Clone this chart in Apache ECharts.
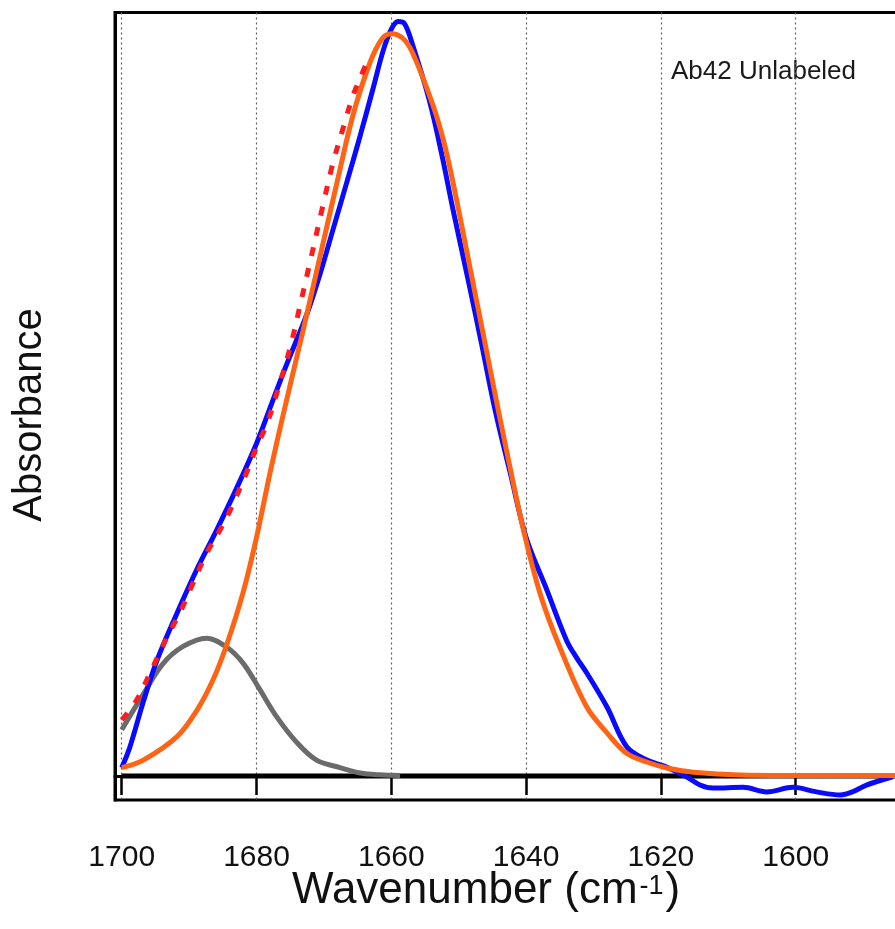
<!DOCTYPE html>
<html>
<head>
<meta charset="utf-8">
<script src="https://cdn.jsdelivr.net/npm/echarts@6/dist/echarts.min.js"></script>
<style>
html,body{margin:0;padding:0;background:#fff;}
#chart{width:895px;height:929px;}
</style>
</head>
<body>
<div id="chart"></div>
<script>
// ---- data ----
const wavenumberTicks = [1700, 1680, 1660, 1640, 1620, 1600];

// measured spectrum (blue)
const measuredWn = [1700.0, 1698.8, 1696.8, 1694.8, 1691.8, 1688.9, 1685.9, 1682.9, 1680.0, 1677.7, 1675.5, 1672.6, 1670.6, 1668.7, 1666.6, 1664.6, 1662.7, 1661.2, 1660.0, 1659.0, 1658.1, 1656.8, 1654.3, 1652.5, 1650.9, 1648.6, 1646.6, 1644.6, 1642.3, 1640.0, 1636.9, 1634.0, 1632.5, 1631.0, 1628.0, 1625.1, 1622.1, 1619.5, 1616.2, 1614.2, 1612.3, 1607.8, 1604.3, 1600.4, 1596.9, 1593.4, 1591.6, 1589.5, 1585.6];
const measuredAbs = [1.1, 3.8, 9.8, 15.2, 21.5, 27.2, 32.5, 38.1, 43.9, 49.3, 54.4, 60.8, 66.2, 72.0, 78.4, 84.6, 90.8, 95.8, 98.6, 99.6, 99.4, 96.4, 89.0, 82.0, 75.0, 65.5, 57.0, 48.3, 39.8, 31.5, 24.5, 17.9, 15.6, 13.6, 9.1, 3.9, 2.1, 1.3, -0.1, -1.2, -1.6, -1.5, -2.1, -1.5, -2.1, -2.5, -2.1, -1.2, -0.1];

// main fitted band (orange)
const fitWn = [1700.0, 1696.8, 1691.8, 1688.9, 1686.5, 1684.4, 1682.0, 1680.0, 1678.0, 1676.1, 1673.1, 1670.6, 1668.1, 1665.7, 1663.2, 1661.4, 1660.0, 1658.3, 1656.8, 1653.8, 1652.0, 1650.3, 1648.3, 1646.4, 1644.4, 1642.4, 1640.4, 1637.9, 1635.0, 1631.0, 1628.0, 1625.1, 1622.1, 1619.1, 1615.2, 1608.3, 1599.4, 1580.0];
const fitAbs = [1.1, 2.1, 5.2, 8.6, 12.6, 17.4, 24.2, 31.5, 40.0, 47.5, 58.8, 68.5, 78.2, 87.2, 94.1, 97.3, 98.0, 97.4, 95.4, 88.5, 83.0, 76.0, 67.0, 58.5, 49.5, 40.8, 32.5, 24.0, 17.0, 9.1, 5.7, 3.0, 1.85, 1.06, 0.5, 0.13, 0.07, 0.05];

// minor component (grey)
const compWn = [1700.0, 1696.8, 1693.9, 1690.9, 1687.4, 1684.4, 1682.0, 1679.5, 1677.0, 1674.0, 1671.1, 1667.6, 1664.6, 1661.7, 1658.7];
const compAbs = [6.1, 10.8, 14.8, 17.1, 18.2, 17.0, 14.9, 11.4, 7.8, 4.4, 2.1, 1.1, 0.4, 0.15, 0.05];

// total fit (red dotted)
const totalWn = [1700.0, 1697.8, 1695.8, 1693.3, 1691.4, 1689.9, 1687.4, 1685.4, 1683.9, 1681.5, 1680.0, 1678.5, 1677.0, 1675.0, 1673.6, 1672.1, 1670.1, 1668.7, 1666.9, 1665.7, 1664.6, 1663.5];
const totalAbs = [7.4, 10.0, 13.6, 18.3, 21.5, 24.5, 29.4, 32.5, 35.1, 40.0, 43.4, 46.4, 50.5, 56.6, 61.9, 67.7, 75.5, 80.8, 86.3, 89.8, 92.2, 94.5];

// zero baseline (black)
const baselineWn = [1700, 1580];
const baselineAbs = [0, 0];

const pairs = (xs, ys) => xs.map((x, i) => [x, ys[i]]);

const FONT = '"Liberation Sans", Arial, Helvetica, sans-serif';
const chart = echarts.init(document.getElementById('chart'), null, {renderer: 'canvas'});

const option = {
  animation: false,
  backgroundColor: '#ffffff',
  grid: {
    left: 115, top: 12.5, width: 815.5, height: 787.5,
    outerBoundsMode: 'none', containLabel: false,
    show: true, borderColor: '#000', borderWidth: 3, backgroundColor: 'transparent'
  },
  xAxis: {
    type: 'value',
    inverse: true,
    min: 1580,
    max: 1701.0,
    interval: 20,
    axisLine: {show: true, lineStyle: {color: '#000', width: 3}},
    axisTick: {show: true, length: 19, lineStyle: {color: '#000', width: 2.5}, customValues: wavenumberTicks},
    axisLabel: {
      show: true, margin: 43, fontSize: 30, color: '#111', fontFamily: FONT,
      customValues: wavenumberTicks,
      formatter: v => String(v)
    },
    splitLine: {show: true, lineStyle: {color: '#5e5e5e', width: 1.2, type: [2, 3]}}
  },
  yAxis: {
    type: 'value',
    min: -3.17,
    max: 100.8,
    axisLine: {show: true, lineStyle: {color: '#000', width: 3}},
    axisTick: {show: false},
    axisLabel: {show: false},
    splitLine: {show: false}
  },
  graphic: [
    {
      type: 'text', left: 671, top: 59,
      style: {text: 'Ab42 Unlabeled', font: '26px ' + FONT, fill: '#1a1a1a'}
    },
    {
      type: 'text', x: 30, y: 415, rotation: Math.PI / 2,
      style: {text: 'Absorbance', font: '40px ' + FONT, fill: '#111', align: 'center', verticalAlign: 'middle'}
    },
    {
      type: 'text', x: 292, y: 891,
      style: {
        text: 'Wavenumber (cm{sup|-1})',
        font: '44px ' + FONT, fill: '#111', align: 'left', verticalAlign: 'middle',
        rich: {sup: {fontSize: 27, fontFamily: FONT, fill: '#111', verticalAlign: 'top', padding: [4, 2, 0, 2]}}
      }
    }
  ],
  series: [
    {
      name: 'baseline', type: 'line', data: pairs(baselineWn, baselineAbs), showSymbol: false,
      lineStyle: {color: '#000', width: 5}, z: 2
    },
    {
      name: 'component', type: 'line', data: pairs(compWn, compAbs), showSymbol: false, smooth: 0.35,
      lineStyle: {color: '#6b6b6b', width: 5}, z: 3
    },
    {
      name: 'measured', type: 'line', data: pairs(measuredWn, measuredAbs), showSymbol: false, smooth: 0.35,
      lineStyle: {color: '#0a0aff', width: 5}, z: 4
    },
    {
      name: 'fit', type: 'line', data: pairs(fitWn, fitAbs), showSymbol: false, smooth: 0.35,
      lineStyle: {color: '#ff6414', width: 5}, z: 5
    },
    {
      name: 'total', type: 'line', data: pairs(totalWn, totalAbs), showSymbol: false, smooth: 0.35,
      lineStyle: {color: '#ff1c1c', width: 5, type: [9, 12]}, z: 6
    }
  ]
};
chart.setOption(option);
</script>
</body>
</html>
